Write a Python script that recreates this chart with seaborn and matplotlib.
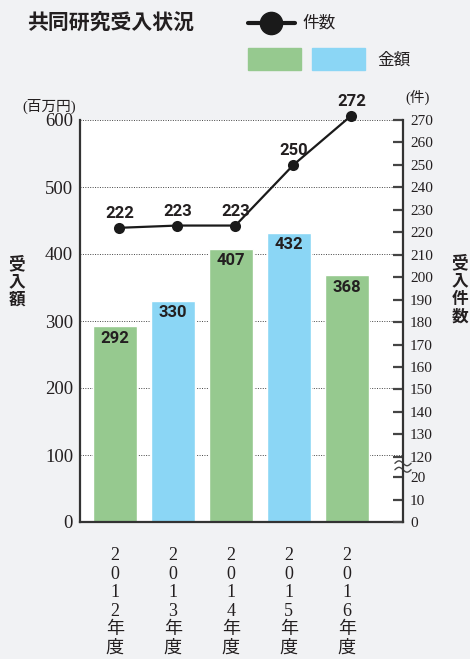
import numpy as np
import matplotlib
matplotlib.use('Agg')
import matplotlib.pyplot as plt
from matplotlib.lines import Line2D
from matplotlib.patches import Rectangle
import seaborn as sns

# ---- data -------------------------------------------------------------
years = ['2012', '2013', '2014', '2015', '2016']
amounts = [292, 330, 407, 432, 368]          # 受入額 (百万円)
counts = [222, 223, 223, 250, 272]           # 受入件数 (件)
left_ticks = [0, 100, 200, 300, 400, 500, 600]
right_ticks = [0, 10, 20] + list(range(120, 271, 10))

GREEN = '#96c98f'
BLUE = '#8bd6f5'
BG = '#f1f2f4'
INK = '#231f20'
bar_colors = [GREEN, BLUE, GREEN, BLUE, GREEN]

CJK = 'Noto Sans CJK JP'
SERIF = ['Liberation Serif', CJK]
NARROW = ['Roboto', 'DejaVu Sans']

sns.set_theme(style='white')
plt.rcParams['font.family'] = [CJK, 'DejaVu Sans']


# broken right axis: 0-20 then 120-270
def fwd(v):
    v = np.asarray(v, dtype=float)
    return np.where(v <= 20, v, np.where(v >= 120, v - 91, 20 + (v - 20) * 0.09))


def inv(u):
    u = np.asarray(u, dtype=float)
    return np.where(u <= 20, u, np.where(u >= 29, u + 91, 20 + (u - 20) / 0.09))


fig = plt.figure(figsize=(4.7, 6.59), dpi=100, facecolor=BG)
ax = fig.add_axes([80 / 470, 1 - 522 / 659, 323 / 470, 402 / 659])
ax.set_facecolor('white')

sns.barplot(x=years, y=amounts, hue=years, palette=bar_colors, legend=False,
            saturation=1, width=0.76, ax=ax, zorder=2)
ax.set_xlim(-0.6, 4.97)
ax.set_ylim(0, 600)
ax.set_yticks(left_ticks)
ax.set_yticklabels([str(t) for t in left_ticks], family=SERIF, fontsize=13.5, color=INK)
ax.yaxis.grid(True, linestyle=(0, (1, 1.5)), color='#444', lw=0.7)
ax.set_axisbelow(True)
ax.tick_params(axis='y', length=0, pad=5)
ax.set_xticks(range(len(years)))
ax.set_xticklabels(['\n'.join(list(y)) + '\n年\n度' for y in years],
                   family=SERIF, fontsize=13, color=INK, linespacing=1.12, va='top')
ax.tick_params(axis='x', length=0, pad=18)
ax.set_xlabel('')
ax.set_ylabel('')
for s in ['top', 'right']:
    ax.spines[s].set_visible(False)
for s in ['left', 'bottom']:
    ax.spines[s].set_color('#333')
    ax.spines[s].set_linewidth(1.6)

for i, v in enumerate(amounts):
    ax.annotate(str(v), (i, v), xytext=(0, -3), textcoords='offset points',
                ha='center', va='top', family=NARROW, fontweight='bold',
                fontsize=12, color=INK, zorder=3)

# ---- line on the right axis -------------------------------------------
ax2 = ax.twinx()
ax2.set_yscale('function', functions=(fwd, inv))
x_line = np.arange(len(counts)) + 0.08
sns.lineplot(x=x_line, y=counts, ax=ax2, color='#1a1a1a', lw=1.6,
             marker='o', markersize=8, markeredgewidth=0, clip_on=False)
ax2.set_ylim(0, 270)
ax2.set_yticks(right_ticks)
ax2.yaxis.set_minor_locator(matplotlib.ticker.NullLocator())
ax2.set_yticklabels([str(t) for t in right_ticks], family=SERIF, fontsize=11, color=INK)
ax2.tick_params(axis='y', direction='in', length=7, width=1.6, color='#444', pad=5)
ax2.set_xlim(-0.6, 4.97)
ax2.set_ylabel('')
for s in ['top', 'left', 'bottom']:
    ax2.spines[s].set_visible(False)
ax2.spines['right'].set_color('#333')
ax2.spines['right'].set_linewidth(1.6)

for xi, c in zip(x_line, counts):
    ax2.annotate(str(c), (xi, c), xytext=(0, 5), textcoords='offset points',
                 ha='center', va='bottom', family=NARROW, fontweight='bold',
                 fontsize=12, color=INK, annotation_clip=False)

# break mark on the right axis
t = np.linspace(0, 1, 40)
for yc in [0.146, 0.130]:
    ax2.plot(0.975 + 0.05 * t, yc + 0.006 * np.sin(2 * np.pi * t),
             transform=ax2.transAxes, clip_on=False, color='#444', lw=1.0)

# ---- titles, axis labels, legend --------------------------------------
fig.text(27 / 470, 1 - 22 / 659, '共同研究受入状況', fontsize=15, fontweight='bold',
         color=INK, va='center', ha='left')
fig.text(17 / 470, 1 - 282 / 659, '受\n入\n額', fontsize=12, fontweight='bold',
         color=INK, va='center', ha='center', linespacing=1.0)
fig.text(460 / 470, 1 - 290 / 659, '受\n入\n件\n数', fontsize=12, fontweight='bold',
         color=INK, va='center', ha='center', linespacing=1.0)
fig.text(49 / 470, 1 - 106 / 659, '(百万円)', family=SERIF, fontsize=10.5,
         color=INK, va='center', ha='center')
fig.text(418 / 470, 1 - 97 / 659, '(件)', family=SERIF, fontsize=10.5,
         color=INK, va='center', ha='center')

ly = 1 - 23 / 659
fig.add_artist(Line2D([248 / 470, 295 / 470], [ly, ly], color='#1a1a1a', lw=3,
                      transform=fig.transFigure))
fig.add_artist(Line2D([271 / 470], [ly], color='#1a1a1a', marker='o', markersize=16,
                      transform=fig.transFigure))
fig.text(302 / 470, ly, '件数', fontsize=12, color=INK, va='center', ha='left')
fig.add_artist(Rectangle((248 / 470, 1 - 70 / 659), 53 / 470, 22 / 659,
                         color=GREEN, transform=fig.transFigure))
fig.add_artist(Rectangle((312 / 470, 1 - 70 / 659), 53 / 470, 22 / 659,
                         color=BLUE, transform=fig.transFigure))
fig.text(377 / 470, 1 - 60 / 659, '金額', fontsize=12, color=INK, va='center', ha='left')

fig.savefig('out.png', dpi=100, facecolor=BG)
